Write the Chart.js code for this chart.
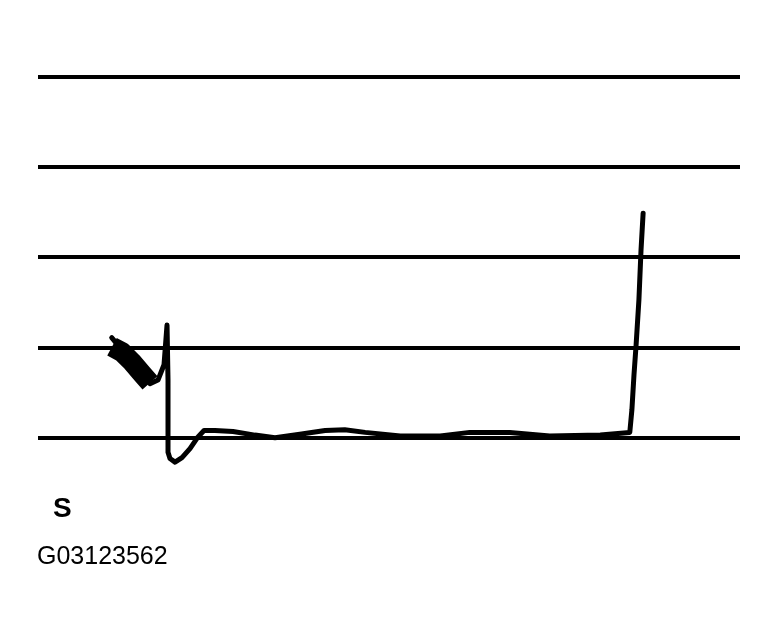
<!DOCTYPE html>
<html>
<head>
<meta charset="utf-8">
<script src="https://cdn.jsdelivr.net/npm/chart.js@4.4.0/dist/chart.umd.min.js"></script>
<style>
  body { margin: 0; background: #fff; }
  #wrap { position: relative; width: 777px; height: 639px; }
  canvas { position: absolute; left: 0; top: 0; }
  .lbl { position: absolute; font-family: "Liberation Sans", Arial, sans-serif; line-height: 1; color: #000; white-space: nowrap; }
</style>
</head>
<body>
<div id="wrap">
  <canvas id="trace" width="777" height="639"></canvas>
  <div class="lbl" style="left:53px; top:494px; font-size:28px; font-weight:bold;">S</div>
  <div class="lbl" style="left:37px; top:543px; font-size:25px;">G03123562</div>
</div>
<script>
// trace, x in % of sweep, y in divisions
const timeVals = [10.5, 15.95, 17.09, 17.95, 18.38, 18.52, 18.52, 18.80, 19.52, 20.51, 21.65, 22.79, 23.65, 25.2, 27.78, 30.9, 33.76, 37.3, 40.9, 43.7, 46.6, 51.6, 57.3, 61.5, 67.2, 72.9, 80.1, 84.3, 84.6, 84.9, 85.2, 85.6, 85.9, 86.2];
const traceVals = [1.11, 0.60, 0.64, 0.81, 1.25, 0.64, -0.16, -0.23, -0.27, -0.22, -0.12, 0.01, 0.08, 0.08, 0.07, 0.03, 0.0, 0.04, 0.08, 0.09, 0.06, 0.02, 0.02, 0.06, 0.06, 0.02, 0.03, 0.06, 0.31, 0.70, 1.03, 1.53, 2.08, 2.49];

// the smeared start of the trace
const smearTime = [10.54, 11.97, 13.39, 14.81, 15.95];
const smearVals = [1.01, 0.95, 0.84, 0.71, 0.61];

const gridLevels = [0, 1, 2, 3, 4];

function toPoints(xs, ys) {
    return xs.map((x, i) => ({ x: x, y: ys[i] }));
}

const ctx = document.getElementById("trace").getContext("2d");

new Chart(ctx, {
    type: "line",
    data: {
        datasets: [
            {
                data: toPoints(timeVals, traceVals),
                borderColor: "#000",
                borderWidth: 5,
                pointRadius: 0,
                tension: 0,
                borderJoinStyle: "round",
                borderCapStyle: "round",
            },
            {
                data: toPoints(smearTime, smearVals),
                borderColor: "#000",
                borderWidth: 20,
                pointRadius: 0,
                tension: 0,
                borderJoinStyle: "round",
                borderCapStyle: "butt",
            },
        ],
    },
    options: {
        responsive: false,
        animation: false,
        devicePixelRatio: 1,
        layout: {
            padding: { left: 38, right: 37, top: 77, bottom: 111 },
        },
        plugins: {
            legend: { display: false },
            tooltip: { enabled: false },
        },
        scales: {
            x: {
                type: "linear",
                min: 0,
                max: 100,
                ticks: { display: false },
                grid: { display: false, drawTicks: false },
                border: { display: false },
            },
            y: {
                min: -1,
                max: 4,
                afterBuildTicks: (scale) => {
                    scale.ticks = [-1].concat(gridLevels).map((v) => ({ value: v }));
                },
                ticks: { display: false },
                grid: {
                    drawTicks: false,
                    lineWidth: 4,
                    color: (c) => (c.tick && c.tick.value >= 0 ? "#000" : "rgba(0,0,0,0)"),
                },
                border: { display: false },
            },
        },
    },
});
</script>
</body>
</html>
